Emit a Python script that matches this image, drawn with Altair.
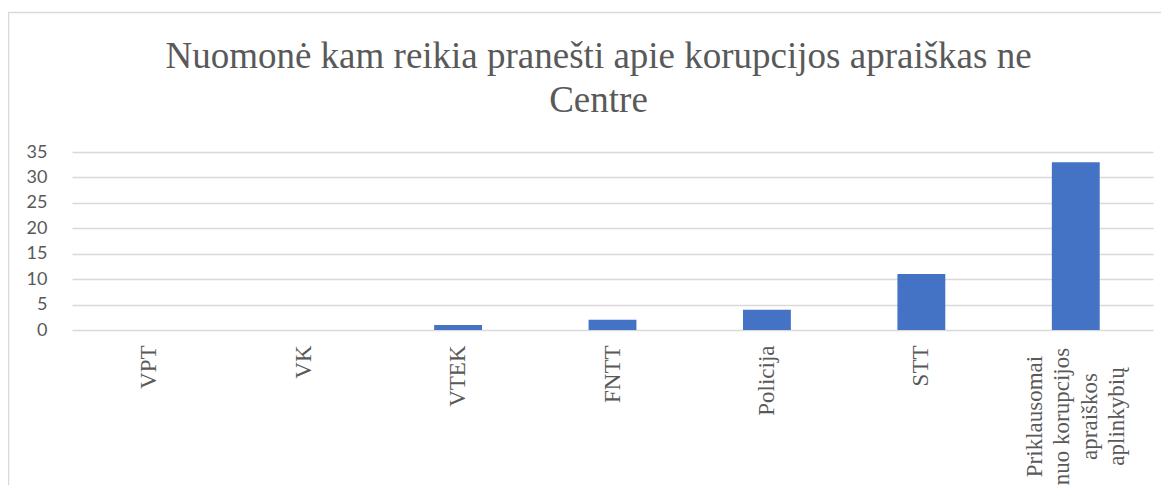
import json
import altair as alt
import pandas as pd

categories = ["VPT", "VK", "VTEK", "FNTT", "Policija", "STT",
              "Priklausomai nuo korupcijos apraiškos aplinkybių"]
values = [0, 0, 1, 2, 4, 11, 33]
long_label_lines = ["Priklausomai", "nuo korupcijos", "apraiškos", "aplinkybių"]
title_lines = ["Nuomonė kam reikia pranešti apie korupcijos apraiškas ne", "Centre"]
y_ticks = [0, 5, 10, 15, 20, 25, 30, 35]

df = pd.DataFrame({"category": categories, "value": values})

long_cat = categories[-1]
test = f"datum.value == {json.dumps(long_cat, ensure_ascii=False)}"
label_expr = f"{test} ? {json.dumps(long_label_lines, ensure_ascii=False)} : datum.label"

PLOT_W, PLOT_H = 1081, 178
PAD_L, PAD_T, PAD_R, PAD_B = 64, 144, 8, 155
GRAY_TXT = "#595959"
GRID = "#d9d9d9"

bars = alt.Chart(df).mark_bar(color="#4472c4").encode(
    x=alt.X(
        "category:N", sort=categories, title=None,
        scale=alt.Scale(paddingInner=0.69, paddingOuter=0.345),
        axis=alt.Axis(
            labelAngle=270, labelFont="Liberation Serif", labelFontSize=23,
            labelColor=GRAY_TXT, labelExpr=label_expr, labelLineHeight=27.5,
            labelAlign={"condition": {"test": test, "value": "center"}, "value": "right"},
            labelBaseline="middle",
            labelPadding={"condition": {"test": test, "value": 86}, "value": 15},
            labelOffset={"condition": {"test": test, "value": -41}, "value": 0},
            labelLimit=400, labelOverlap=False,
            ticks=False, domain=False, grid=False,
        ),
    ),
    y=alt.Y(
        "value:Q", title=None,
        scale=alt.Scale(domain=[0, 35], nice=False),
        axis=alt.Axis(
            values=y_ticks, labelFont="Lato", labelFontSize=18, labelColor=GRAY_TXT,
            labelPadding=25, ticks=False, domain=False,
            gridColor=GRID, gridWidth=1.3,
        ),
    ),
)

title_df = pd.DataFrame({"t": ["\n".join(title_lines)]})
title = alt.Chart(title_df).mark_text(
    font="Liberation Serif", fontSize=37, color=GRAY_TXT, align="center",
    baseline="alphabetic", lineBreak="\n", lineHeight=44,
).encode(text="t:N", x=alt.value(PLOT_W / 2 - 14), y=alt.value(-84))

frame_df = pd.DataFrame({"k": [0]})
frame_top = alt.Chart(frame_df).mark_rule(color=GRID, strokeWidth=1.5).encode(
    x=alt.value(-PAD_L), x2=alt.value(PLOT_W + PAD_R), y=alt.value(-139.5)
)
frame_left = alt.Chart(frame_df).mark_rule(color=GRID, strokeWidth=1.5).encode(
    x=alt.value(-63.5), y=alt.value(-139.5), y2=alt.value(PLOT_H + PAD_B)
)

chart = alt.layer(frame_top, frame_left, title, bars).properties(
    width=PLOT_W, height=PLOT_H,
    autosize=alt.AutoSizeParams(type="none"),
    padding={"left": PAD_L, "top": PAD_T, "right": PAD_R, "bottom": PAD_B},
).configure_view(stroke=None)

chart.save("out.html", embed_options={"renderer": "svg", "actions": False})
